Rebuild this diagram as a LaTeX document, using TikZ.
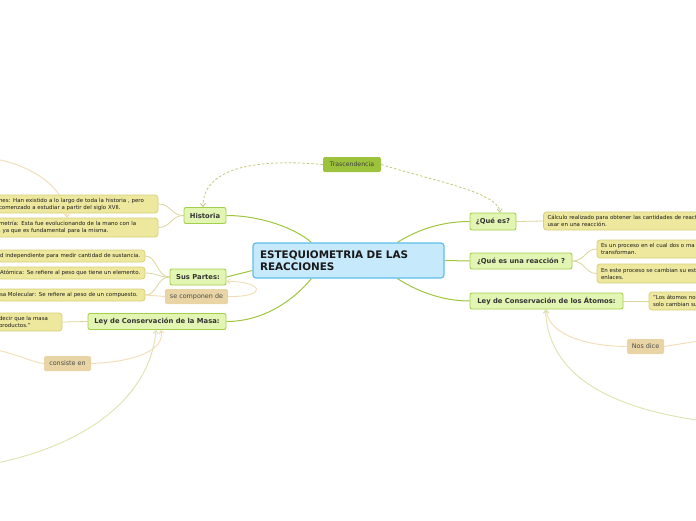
\documentclass[tikz,border=0pt]{standalone}
\usepackage{fontspec}
\setmainfont{DejaVu Sans}
\usetikzlibrary{arrows.meta}

\definecolor{centerfill}{HTML}{C6EAFB}
\definecolor{centerdraw}{HTML}{5CBFEA}
\definecolor{topicfill}{HTML}{E3F5B3}
\definecolor{topicdraw}{HTML}{A3CF4C}
\definecolor{notefill}{HTML}{EDE89E}
\definecolor{notedraw}{HTML}{D7D07A}
\definecolor{tagfill}{HTML}{E8D4A4}
\definecolor{trascfill}{HTML}{9DC23B}
\definecolor{branchgreen}{HTML}{9EC53D}
\definecolor{branchpale}{HTML}{D9D59C}
\definecolor{reltan}{HTML}{F0DCB6}
\definecolor{relgreen}{HTML}{DCE3AE}
\definecolor{reldash}{HTML}{C4C67A}

\pgfdeclarelayer{back}
\pgfsetlayers{back,main}

\begin{document}
\begin{tikzpicture}[
    x=1pt, y=-1pt,
    center/.style={draw=centerdraw, fill=centerfill, line width=1.2pt, rounded corners=3pt,
        minimum width=191pt, minimum height=35pt, text width=177pt, align=left,
        font=\bfseries\fontsize{10.4}{12}\selectfont, text=black!90},
    topic/.style={draw=topicdraw, fill=topicfill, line width=0.9pt, rounded corners=2pt,
        minimum height=16pt, inner xsep=0pt, font=\bfseries\fontsize{6.8}{8}\selectfont, text=black!80},
    note/.style={draw=notedraw, fill=notefill, line width=0.8pt, rounded corners=3pt,
        inner xsep=4pt, inner ysep=0pt, align=left, font=\fontsize{5.45}{7}\selectfont, text=black!90},
    tag/.style={fill=tagfill, rounded corners=1.5pt, minimum height=15pt, inner xsep=0pt,
        font=\fontsize{6.4}{7.5}\selectfont, text=black!70},
    trasc/.style={fill=trascfill, rounded corners=1.5pt, minimum height=15pt, inner xsep=0pt,
        font=\fontsize{6.2}{7.5}\selectfont, text=black!75},
    mainlink/.style={draw=branchgreen, line width=1pt},
    sublink/.style={draw=branchpale, line width=0.8pt},
    tanlink/.style={draw=reltan, line width=0.9pt},
    greenlink/.style={draw=relgreen, line width=0.9pt},
    dashlink/.style={draw=reldash, line width=0.8pt, dash pattern=on 2.5pt off 2pt},
    tip/.style={-{Straight Barb[length=3pt,width=5pt]}}
]
    \clip (0,0) rectangle (696,520);

    % Centre
    \node[center] (central) at (348.5,260.5) {ESTEQUIOMETRIA DE LAS\\REACCIONES};

    % Left topics
    \node[topic, minimum width=42pt] (hist) at (205,215.5) {Historia};
    \node[topic, minimum width=56pt] (partes) at (198,277) {Sus Partes:};
    \node[topic, minimum width=138pt] (masa) at (157,321.5) {Ley de Conservación de la Masa:};

    % Right topics
    \node[topic, minimum width=46pt, minimum height=17pt] (quees) at (493,221.5) {¿Qué es?};
    \node[topic, minimum width=102pt] (reac) at (521,261) {¿Qué es una reacción ?};
    \node[topic, minimum width=153pt] (atomos) at (546.5,301) {Ley de Conservación de los Átomos:};

    \node[trasc, minimum width=58pt] (trasc) at (352,164.5) {Trascendencia};

    % Notes, left
    \node[note, text width=155pt, minimum height=18pt] (h1) at (76.5,204)
        {nes: Han existido a lo largo de toda la historia , pero\\comenzado a estudiar a partir del siglo XVII.};
    \node[note, text width=155pt, minimum height=19pt] (h2) at (76.5,227.5)
        {metría: Esta fue evolucionando de la mano con la\\, ya que es fundamental para la misma.};
    \node[note, inner xsep=2pt, text width=143pt, minimum height=12pt] (p1) at (71.5,256)
        {d independiente para medir cantidad de sustancia.};
    \node[note, inner xsep=2pt, text width=143pt, minimum height=12pt] (p2) at (71.5,273)
        {Atómica: Se refiere al peso que tiene un elemento.};
    \node[note, inner xsep=2pt, text width=143pt, minimum height=12pt] (p3) at (71.5,295)
        {sa Molecular: Se refiere al peso de un compuesto.};
    \node[note, text width=59pt, minimum height=18pt] (m1) at (28.5,322)
        {decir que la masa\\productos."};

    % Notes, right
    \node[note, text width=190pt, minimum height=18pt] (q1) at (642.5,221)
        {Cálculo realizado para obtener las cantidades de react\\usar en una reacción.};
    \node[note, text width=140pt, minimum height=18pt] (r1) at (671,249)
        {Es un proceso en el cual dos o ma\\transforman.};
    \node[note, text width=140pt, minimum height=19pt] (r2) at (671,273.5)
        {En este proceso se cambian su est\\enlaces.};
    \node[note, text width=90pt, minimum height=18pt] (a1) at (698,301)
        {"Los átomos no\\solo cambian su};

    % Link labels
    \node[tag, minimum width=63pt] (compon) at (196.5,296.5) {se componen de};
    \node[tag, minimum width=47pt] (consiste) at (67.5,363.5) {consiste en};
    \node[tag, minimum width=37pt] (nosdice) at (645.5,346.5) {Nos dice};

    % Free ends outside the page
    \coordinate (offTL) at (-10,158);
    \coordinate (offL) at (-30,345);
    \coordinate (offBL) at (-20,466);
    \coordinate (offR) at (730,336);
    \coordinate (offBR) at (730,424);

    \begin{pgfonlayer}{back}
    % Main branches
    \draw[mainlink] ([xshift=59pt]central.north west) .. controls (295,228) and (260,215.5) .. (hist.east);
    \draw[mainlink] ([yshift=-10pt]central.west) .. controls (240,273) .. (partes.east);
    \draw[mainlink] ([xshift=59pt]central.south west) .. controls (292,302) and (262,321.5) .. (masa.east);
    \draw[mainlink] ([xshift=145pt]central.north west) .. controls (420,228) and (445,221.5) .. (quees.west);
    \draw[mainlink] (central.east) -- (reac.west);
    \draw[mainlink] ([xshift=145pt]central.south west) .. controls (420,293) and (445,301) .. (atomos.west);

    % Sub branches
    \draw[sublink] (hist.west) .. controls (171,215.5) and (171,204) .. (h1.east);
    \draw[sublink] (hist.west) .. controls (171,215.5) and (171,227.5) .. (h2.east);
    \foreach \n in {p1,p2,p3}
        \draw[sublink] (partes.west) .. controls (157,277) and (157,277 |- \n.east) .. (\n.east);
    \draw[sublink] (masa.west) -- (m1.east);
    \draw[sublink] (quees.east) -- (q1.west);
    \draw[sublink] (reac.east) .. controls (585,261) and (585,249) .. (r1.west);
    \draw[sublink] (reac.east) .. controls (585,261) and (585,273.5) .. (r2.west);
    \draw[sublink] (atomos.east) -- (a1.west);

    % Relations
    \draw[dashlink, tip] (trasc.west) .. controls (250,158) and (203,170) .. ([xshift=-2pt]hist.north);
    \draw[dashlink, tip] (trasc.east) .. controls (430,180) and (498,192) .. ([xshift=7pt]quees.north);
    \draw[tanlink] (p3.east) -- (compon.west);
    \draw[tanlink, tip] (compon.east) .. controls (270,297) and (262,281) .. ([yshift=4pt]partes.south east);
    \draw[tanlink, tip] (offTL) .. controls (35,165) and (66,190) .. ([xshift=-9.5pt]h2.north);
    \draw[tanlink] (offL) .. controls (10,350) and (30,362) .. (consiste.west);
    \draw[tanlink, tip] (consiste.east) .. controls (135,362) and (165,350) .. ([xshift=4pt]masa.south);
    \draw[greenlink, tip] (offBL) .. controls (80,450) and (150,400) .. ([xshift=-1pt]masa.south);
    \draw[tanlink, tip] (nosdice.west) .. controls (580,346) and (548,332) .. (atomos.south);
    \draw[tanlink] (nosdice.east) -- (offR);
    \draw[greenlink, tip] (offBR) .. controls (600,412) and (548,370) .. ([xshift=-1pt]atomos.south);
    \end{pgfonlayer}
\end{tikzpicture}
\end{document}
